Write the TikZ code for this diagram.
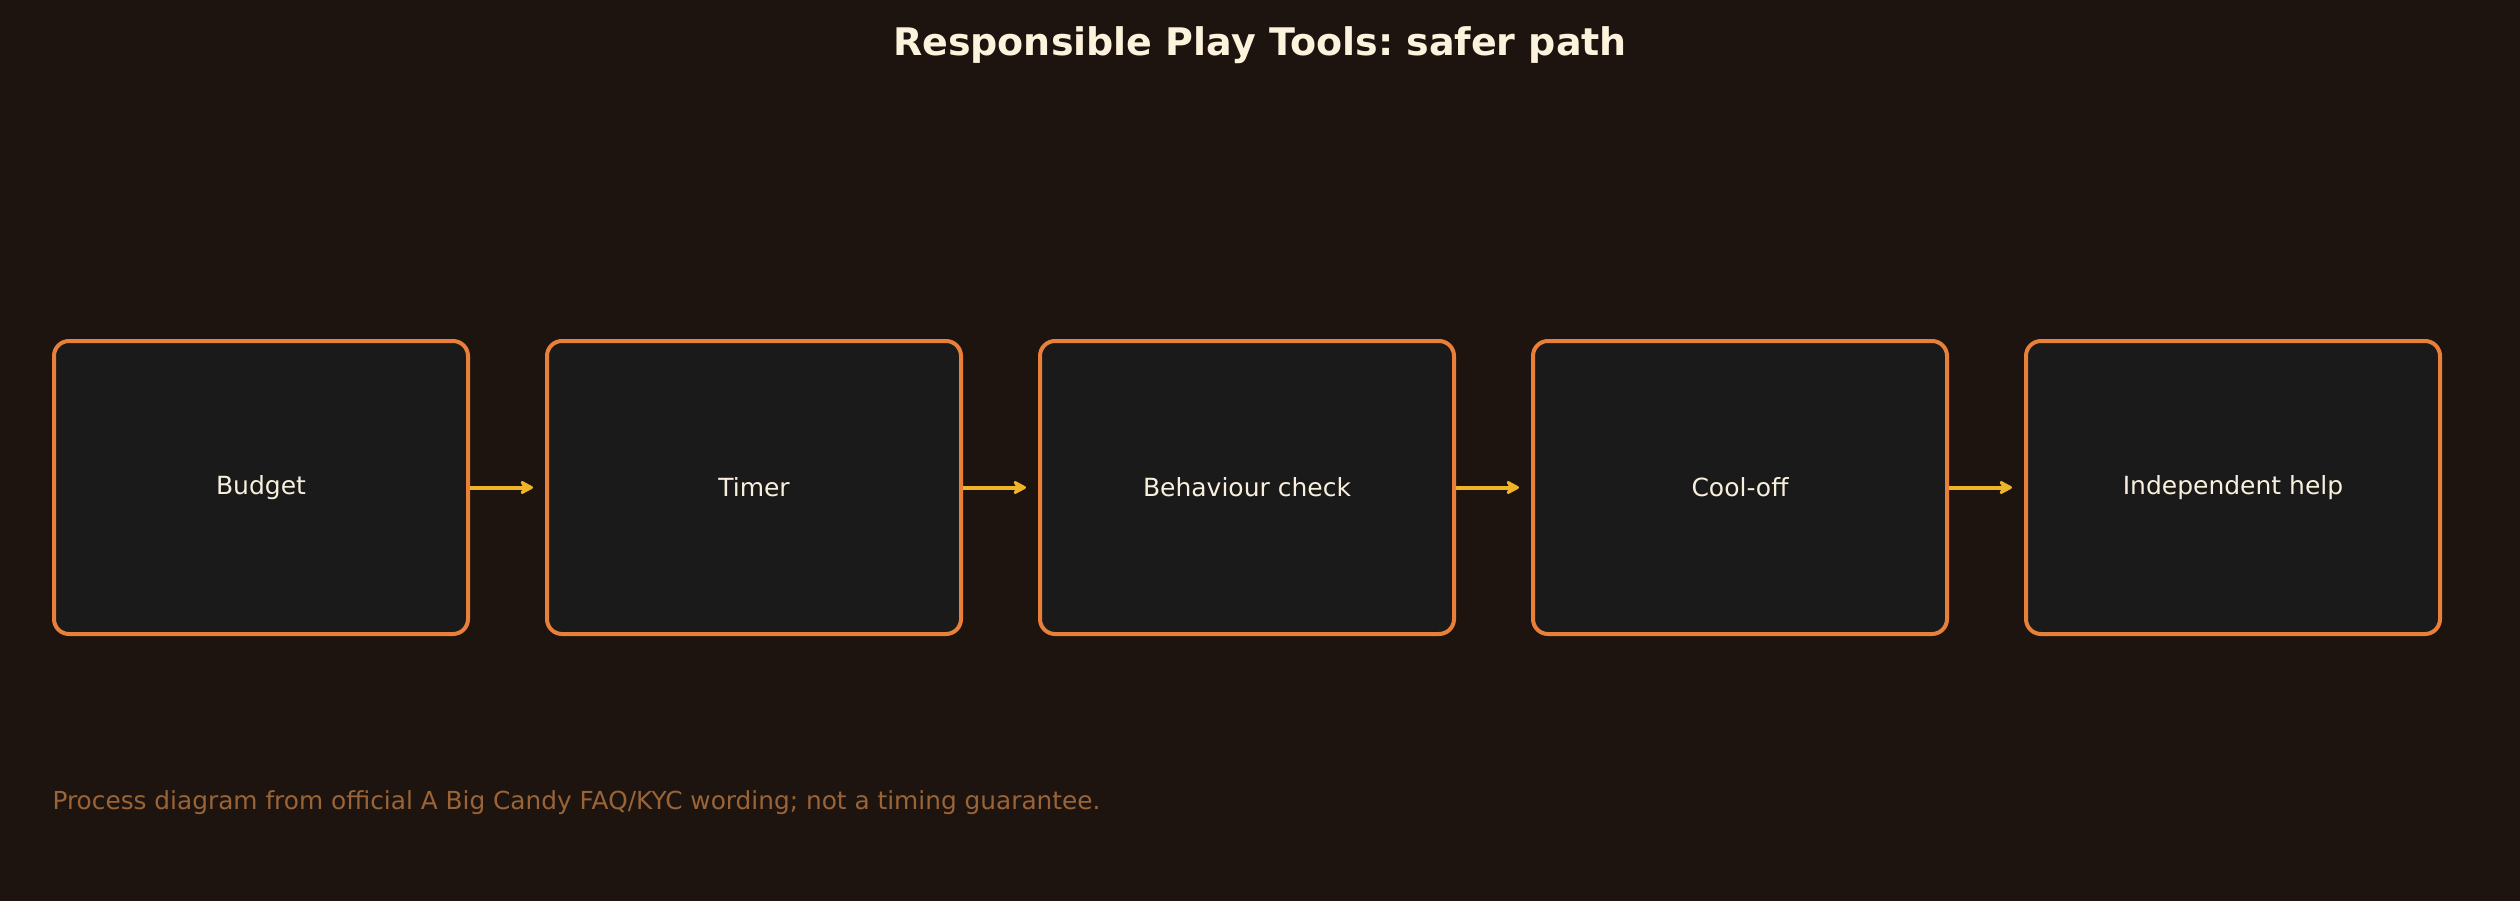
\documentclass[tikz,border=0pt]{standalone}
\usepackage{fontspec}
\setmainfont{DejaVu Sans}
\frenchspacing
\usetikzlibrary{arrows.meta}
\definecolor{bgc}{HTML}{1D1410}
\definecolor{boxfill}{HTML}{1A1A1A}
\definecolor{boxline}{HTML}{E8803A}
\definecolor{arrowc}{HTML}{F0B429}
\definecolor{titlec}{HTML}{FDF3DC}
\definecolor{textc}{HTML}{F8F0DC}
\definecolor{footc}{HTML}{9A6436}
\tikzset{
  x=1pt, y=-1pt,
  stepbox/.style={draw=boxline, line width=4pt, fill=boxfill, rounded corners=15pt,
    minimum width=414pt, minimum height=293pt, inner sep=0pt, anchor=north west,
    text=textc, font=\fontsize{25}{29}\selectfont},
  flow/.style={draw=arrowc, line width=4pt, -{Stealth[length=16pt,width=17pt,inset=5pt,round]}, shorten >=12pt},
}
\begin{document}
\begin{tikzpicture}
\useasboundingbox (0,0) rectangle (2520,900);
\fill[bgc] (-10,-10) rectangle (2530,910);
\node[text=titlec, font=\fontsize{38}{44}\selectfont\bfseries] (title) at (1260,45) {Responsible Play Tools: safer path};
\node[stepbox] (b1) at (52,339) {Budget};
\node[stepbox] (b2) at (545,339) {Timer};
\node[stepbox] (b3) at (1038,339) {Behaviour check};
\node[stepbox] (b4) at (1531,339) {Cool-off};
\node[stepbox] (b5) at (2024,339) {Independent help};
\draw[flow] (b1.east) -- (b2.west);
\draw[flow] (b2.east) -- (b3.west);
\draw[flow] (b3.east) -- (b4.west);
\draw[flow] (b4.east) -- (b5.west);
\node[anchor=west, text=footc, font=\fontsize{24.8}{29}\selectfont] (foot) at (49,803) {Process diagram from official A Big Candy FAQ/KYC wording; not a timing guarantee.};
\end{tikzpicture}
\end{document}
